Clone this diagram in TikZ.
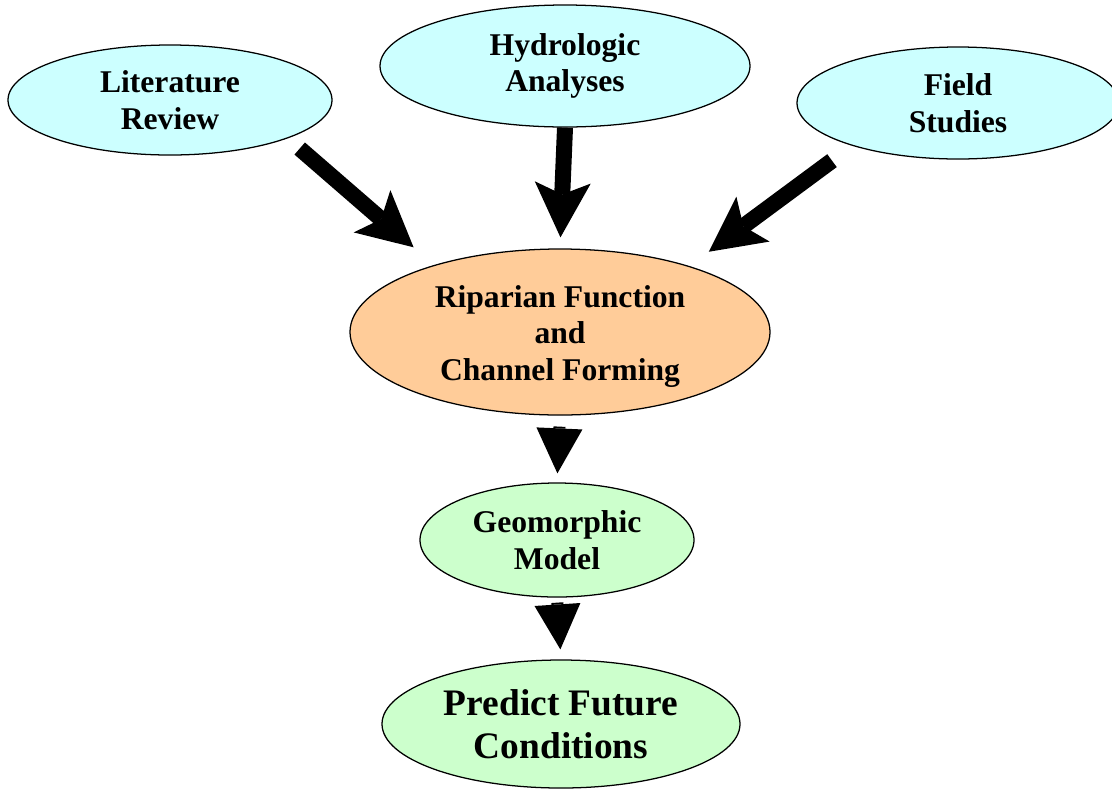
\documentclass[tikz,border=0pt]{standalone}
\usepackage{fontspec}
\setmainfont{Liberation Serif}
\usetikzlibrary{shapes.geometric,arrows.meta}
\definecolor{inputblue}{HTML}{CCFFFF}
\definecolor{coreorange}{HTML}{FFCC99}
\definecolor{modelgreen}{HTML}{CCFFCC}

\begin{document}
\begin{tikzpicture}[x=0.25mm,y=-0.25mm]
    \tikzstyle{every node}=[font=\fontsize{22.5}{26}\selectfont\bfseries]
    \tikzstyle{blob}=[ellipse,draw,line width=0.9pt,inner sep=0pt,align=center]
    \tikzstyle{fatarrow}=[line width=4mm,-{Stealth[length=13.75mm,width=14mm,inset=3mm,line width=0pt]}]
    \tikzstyle{stubarrow}=[line width=3mm,-{Triangle[length=11.25mm,width=11.5mm,line width=0pt]}]

    \useasboundingbox (0,0) rectangle (1112,793);

    \node[blob,fill=inputblue,minimum width=81mm,minimum height=27.5mm]
    (lit) at (170,100) {Literature\\Review};

    \node[blob,fill=inputblue,minimum width=92.5mm,minimum height=30.5mm]
    (hyd) at (565,66) {Hydrologic\\Analyses};

    \node[blob,fill=inputblue,minimum width=80.5mm,minimum height=28mm]
    (field) at (958,103) {Field\\Studies};

    \node[blob,fill=coreorange,minimum width=105mm,minimum height=41.5mm]
    (rip) at (560,332) {\rule{0pt}{22pt}Riparian Function\\and\\Channel Forming};

    \node[blob,fill=modelgreen,minimum width=68.5mm,minimum height=28.5mm]
    (geo) at (557,540) {Geomorphic\\Model};

    \node[blob,fill=modelgreen,minimum width=89.5mm,minimum height=32mm,
    font=\fontsize{26.6}{31}\selectfont\bfseries]
    (pred) at (561,724) {Predict Future\\Conditions};

    \draw[fatarrow,shorten <=3.9mm,shorten >=6.75mm] (lit.-18.9) -- (rip.152);

    \draw[fatarrow,shorten >=2.75mm] (hyd.south) -- (rip.north);

    \draw[fatarrow,shorten <=6.25mm,shorten >=6mm] (field.-158) -- (rip.27.5);

    \draw[stubarrow,shorten <=2.75mm,shorten >=2.25mm] (rip.south) -- (geo.north);

    \draw[stubarrow,shorten <=1.25mm,shorten >=2.5mm] (geo.south) -- (pred.north);
\end{tikzpicture}
\end{document}
